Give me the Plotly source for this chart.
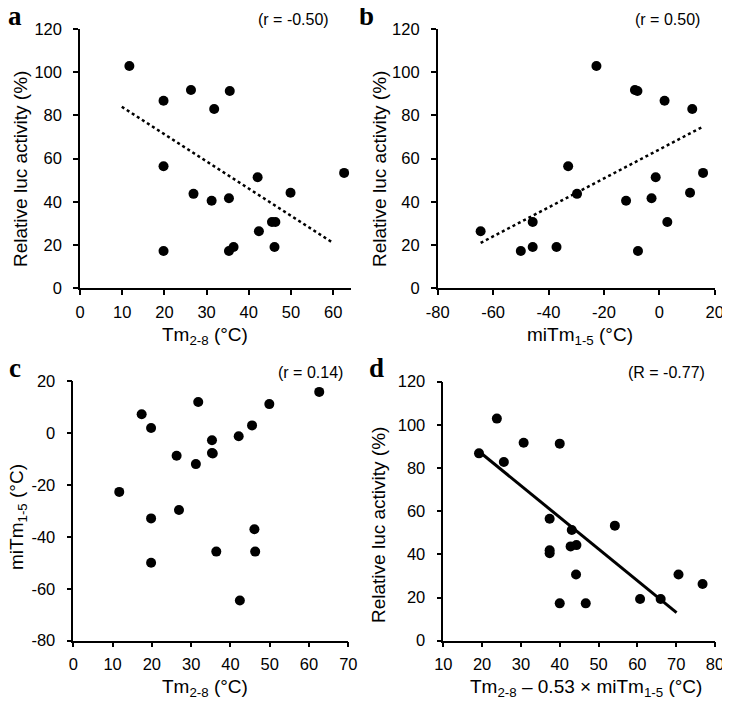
import plotly.graph_objects as go

# ---------------- data ----------------
# Tm2-8 (°C) for each construct
tm = [11.7, 17.4, 19.8, 19.8, 19.8, 26.3, 26.9, 31.2, 31.8, 35.3, 35.5, 35.3,
      36.4, 42.1, 42.4, 45.5, 46.1, 46.3, 49.9, 62.6]
# miTm1-5 (°C)
mitm = [-22.7, 7.2, 1.9, -32.9, -50.0, -8.8, -29.7, -12.0, 11.9, -2.8, -7.9, -7.7,
        -45.7, -1.3, -64.5, 2.9, -37.1, -45.7, 11.1, 15.8]
# relative luc activity (%) (None = not measured)
luc = [102.9, None, 86.8, 56.5, 17.3, 91.8, 43.7, 40.5, 83.0, 41.7, 91.3, 17.3,
       19.1, 51.4, 26.4, 30.7, 19.1, 30.7, 44.2, 53.4]

# panel d abscissa: Tm2-8 - 0.53 x miTm1-5 (°C)
combo_x = [23.8, 19.2, 37.4, 46.7, 30.7, 42.8, 37.4, 25.6, 37.4, 40.0, 40.0,
           60.7, 43.1, 76.8, 44.2, 66.0, 70.6, 44.3, 54.2]
combo_y = [102.9, 86.8, 56.5, 17.3, 91.7, 43.7, 40.5, 82.8, 41.9, 91.3, 17.3,
           19.3, 51.3, 26.3, 30.7, 19.3, 30.7, 44.3, 53.3]

# trend lines (end points)
trend_a_x = [9.9, 60.0]
trend_a_y = [84.0, 21.0]
trend_b_x = [-64.5, 15.3]
trend_b_y = [21.0, 74.5]
trend_d_x = [20.0, 70.1]
trend_d_y = [86.5, 13.0]

# tick values / labels
ticks_tm = [0, 10, 20, 30, 40, 50, 60]
ticks_tm_c = [0, 10, 20, 30, 40, 50, 60, 70]
ticks_luc = [0, 20, 40, 60, 80, 100, 120]
ticks_mitm_x = [-80, -60, -40, -20, 0, 20]
ticks_mitm_y = [-80, -60, -40, -20, 0, 20]
ticks_combo = [10, 20, 30, 40, 50, 60, 70, 80]

r_labels = ["(r = -0.50)", "(r = 0.50)", "(r = 0.14)", "(R = -0.77)"]
panel_letters = ["a", "b", "c", "d"]

# ---------------- layout helpers ----------------
# the page body has an 8px margin, so the figure starts at (8, 8) in the window
OFF = 8
W, H = 730, 695
def px(x):
    return (x - OFF) / W
def py(y):
    return 1 - (y - OFF) / H

TICKFONT = dict(family="Liberation Sans, Arial, sans-serif", size=16.5, color="black")
TITLEFONT = dict(family="Liberation Sans, Arial, sans-serif", size=19, color="black")

def axis(domain, rng, tv, anchor, standoff):
    return dict(domain=domain, range=rng, tickmode="array", tickvals=tv,
                ticktext=[str(v) for v in tv],
                showline=True, linecolor="black", linewidth=1.5,
                ticks="outside", ticklen=5, tickwidth=1.5, tickcolor="black",
                ticklabelstandoff=standoff,
                showgrid=False, zeroline=False, tickfont=TICKFONT, anchor=anchor,
                automargin=False, fixedrange=True)

fig = go.Figure()
mk = dict(color="black", size=10)

# panel a
fig.add_trace(go.Scatter(x=tm, y=luc, mode="markers", marker=mk, xaxis="x", yaxis="y"))
fig.add_trace(go.Scatter(x=trend_a_x, y=trend_a_y, mode="lines",
                         line=dict(color="black", width=2.5, dash="dot"), xaxis="x", yaxis="y"))
# panel b
fig.add_trace(go.Scatter(x=mitm, y=luc, mode="markers", marker=mk, xaxis="x2", yaxis="y2"))
fig.add_trace(go.Scatter(x=trend_b_x, y=trend_b_y, mode="lines",
                         line=dict(color="black", width=2.5, dash="dot"), xaxis="x2", yaxis="y2"))
# panel c
fig.add_trace(go.Scatter(x=tm, y=mitm, mode="markers", marker=mk, xaxis="x3", yaxis="y3"))
# panel d
fig.add_trace(go.Scatter(x=combo_x, y=combo_y, mode="markers", marker=mk, xaxis="x4", yaxis="y4"))
fig.add_trace(go.Scatter(x=trend_d_x, y=trend_d_y, mode="lines",
                         line=dict(color="black", width=3), xaxis="x4", yaxis="y4"))

fig.update_layout(
    width=W, height=H, margin=dict(l=0, r=0, t=0, b=0, autoexpand=False),
    paper_bgcolor="white", plot_bgcolor="white", showlegend=False,
    xaxis=axis([px(80), px(351.3)], [0, 64.3], ticks_tm, "y", 3),
    yaxis=axis([py(288.3), py(29)], [0, 120], ticks_luc, "x", 8),
    xaxis2=axis([px(437.7), px(714.7)], [-80, 20], ticks_mitm_x, "y2", 3),
    yaxis2=axis([py(288.3), py(29)], [0, 120], ticks_luc, "x2", 8),
    xaxis3=axis([px(73.3), px(348.3)], [0, 70], ticks_tm_c, "y3", 3),
    yaxis3=axis([py(640.7), py(381)], [-80, 20], ticks_mitm_y, "x3", 8),
    xaxis4=axis([px(443.3), px(715)], [10, 80], ticks_combo, "y4", 3),
    yaxis4=axis([py(640.7), py(381.7)], [0, 120], ticks_luc, "x4", 8),
)

ann = []
def text(x, y, t, font, angle=0):
    ann.append(dict(x=px(x), y=py(y), xref="paper", yref="paper", text=t, showarrow=False,
                    xanchor="center", yanchor="middle", textangle=angle, font=font))

LETTERFONT = dict(family="Liberation Serif, Times New Roman, serif", size=27, color="black")
RFONT = dict(family="Liberation Sans, Arial, sans-serif", size=16, color="black")

# panel letters
text(15, 16, "<b>%s</b>" % panel_letters[0], LETTERFONT)
text(366, 16, "<b>%s</b>" % panel_letters[1], LETTERFONT)
text(15, 368, "<b>%s</b>" % panel_letters[2], LETTERFONT)
text(376, 368, "<b>%s</b>" % panel_letters[3], LETTERFONT)

# correlation labels
text(293, 19, r_labels[0], RFONT)
text(667, 19, r_labels[1], RFONT)
text(310, 373, r_labels[2], RFONT)
text(666, 372, r_labels[3], RFONT)

# axis titles
text(205, 336, "Tm<sub>2-8</sub> (°C)", TITLEFONT)
text(580, 336, "miTm<sub>1-5</sub> (°C)", TITLEFONT)
text(205, 688, "Tm<sub>2-8</sub> (°C)", TITLEFONT)
text(586, 688, "Tm<sub>2-8</sub> – 0.53 × miTm<sub>1-5</sub> (°C)", TITLEFONT)
text(20, 169, "Relative luc activity (%)", TITLEFONT, -90)
text(379, 169, "Relative luc activity (%)", TITLEFONT, -90)
text(18, 517, "miTm<sub>1-5</sub> (°C)", TITLEFONT, -90)
text(378, 525, "Relative luc activity (%)", TITLEFONT, -90)

fig.update_layout(annotations=ann)
fig.write_html("out.html")
